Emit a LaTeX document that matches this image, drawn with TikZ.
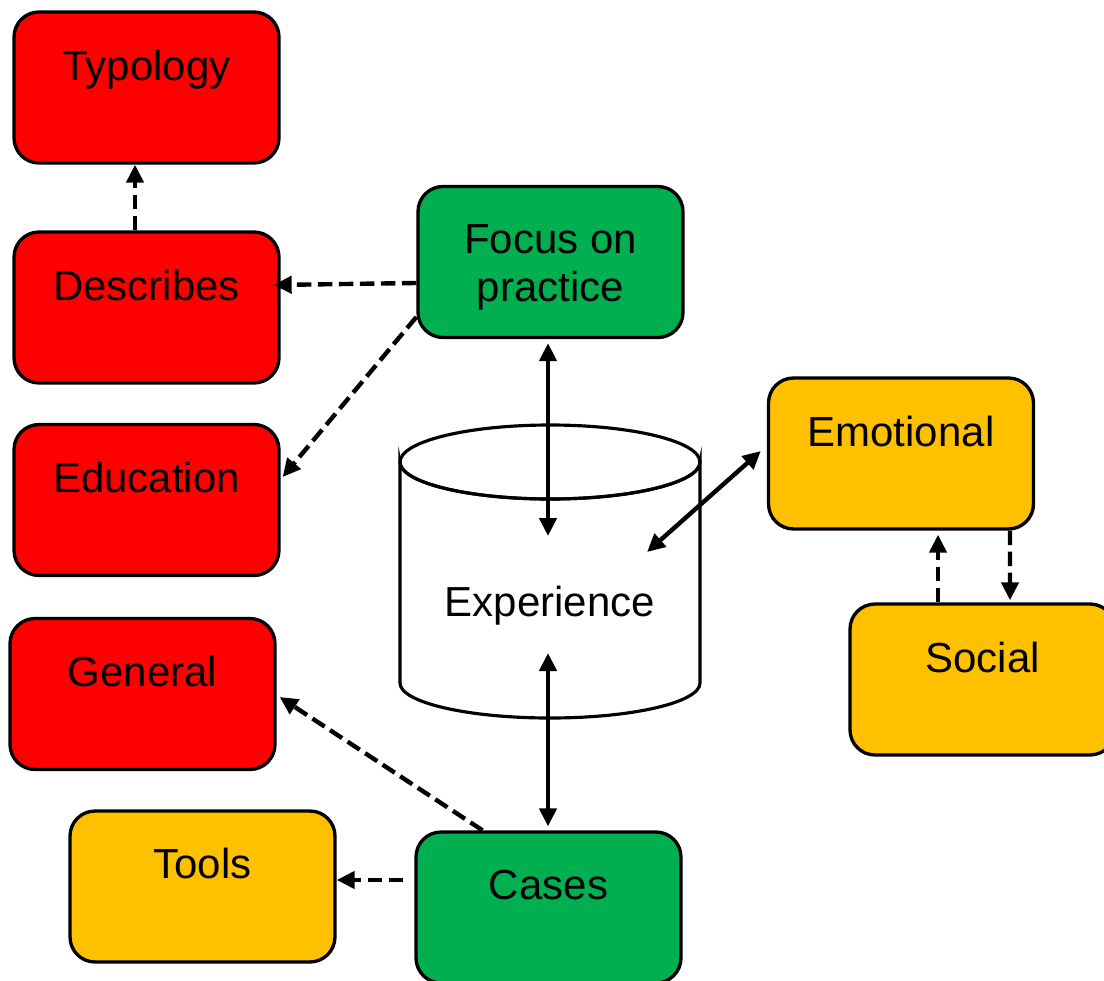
\documentclass[tikz,border=0pt]{standalone}
\usepackage{fontspec}
\setmainfont{Liberation Sans}
\usetikzlibrary{arrows.meta,calc}

\definecolor{boxred}{HTML}{FF0000}
\definecolor{boxgreen}{HTML}{00B050}
\definecolor{boxyellow}{HTML}{FFC000}

\tikzset{
  box/.style={draw=black, line width=1.9pt, rounded corners=0.5cm,
    minimum width=5.3cm, minimum height=3.02cm, inner sep=0pt},
  redbox/.style={box, fill=boxred},
  greenbox/.style={box, fill=boxgreen},
  yellowbox/.style={box, fill=boxyellow},
  txt/.style={anchor=base, inner sep=0pt, align=center,
    font=\fontsize{23.9pt}{27.3pt}\selectfont},
  head/.tip={Triangle[length=0.36cm,width=0.34cm]},
  link/.style={line width=2.5pt, -head},
  dlink/.style={line width=2.5pt, head-head},
  dashlink/.style={link, dash pattern=on 0.29cm off 0.13cm},
}

\begin{document}
\begin{tikzpicture}[x=0.02cm, y=-0.02cm]
  \clip (0,0) rectangle (1104,980);
  \fill[white] (0,0) rectangle (1104,980);

  % boxes
  \node[redbox] (typ) at (146.5,87.5) {};
  \node[redbox] (des) at (146.5,307.5) {};
  \node[redbox] (edu) at (146.5,500) {};
  \node[redbox] (gen) at (142.5,694) {};
  \node[yellowbox] (too) at (202.5,886.5) {};
  \node[greenbox] (foc) at (550.5,262) {};
  \node[greenbox] (cas) at (548.5,907.5) {};
  \node[yellowbox] (emo) at (901,453.5) {};
  \node[yellowbox] (soc) at (982.5,679.5) {};

  % box labels, set near the top edge (base = baseline of the last line)
  \node[txt] (typ-t) at ($(typ.north)+(0,70)$) {Typology};
  \node[txt] (des-t) at ($(des.north)+(0,70)$) {Describes};
  \node[txt] (edu-t) at ($(edu.north)+(0,70)$) {Education};
  \node[txt] (gen-t) at ($(gen.north)+(0,70)$) {General};
  \node[txt] (too-t) at ($(too.north)+(0,69)$) {Tools};
  \node[txt] (foc-t) at ($(foc.north)+(0,117)$) {Focus on\\practice};
  \node[txt] (cas-t) at ($(cas.north)+(0,69)$) {Cases};
  \node[txt] (emo-t) at ($(emo.north)+(0,70)$) {Emotional};
  \node[txt] (soc-t) at ($(soc.north)+(0,70)$) {Social};

  % cylinder
  \coordinate (cyl-tl) at (400,462);
  \coordinate (cyl-bl) at (400,683);
  \coordinate (cyl-tc) at (550,462);
  \filldraw[fill=white, line width=1.8pt]
    (cyl-tl) -- (cyl-bl) arc[start angle=180, end angle=360, x radius=150, y radius=-35]
    -- (700,462) arc[start angle=0, end angle=180, x radius=150, y radius=37] -- cycle;
  \draw[line width=1.8pt] (cyl-tc) ellipse[x radius=150, y radius=37];
  \node[txt] (exp) at (550,616) {Experience};

  % free ends inside the cylinder
  \coordinate (exp-top) at (548,536);
  \coordinate (exp-bot) at (548,653);
  \coordinate (exp-right) at (647,552);

  % connectors
  \draw[dashlink] ([xshift=-0.23cm]des.north) -- ([xshift=-0.23cm]typ.south);
  \draw[dashlink] ($(foc.west)+(0,21)$) -- ($(des.east)+(-7,-22.5)$);
  \draw[dashlink] ($(foc.west)+(0,55)$) -- ($(edu.east)+(2,-23)$);
  \draw[dlink] ($(foc.south)+(-2.5,4)$) -- (exp-top);
  \draw[dlink] (exp-right) -- ($(emo.west)+(-6,-2.5)$);
  \draw[dlink] (exp-bot) -- ($(cas.north)+(-0.5,-4)$);
  \draw[dashlink] ($(cas.north)+(-66,0)$) -- ($(gen.east)+(3,3)$);
  \draw[dashlink] ($(cas.west)+(-11,-27.5)$) -- ($(too.east)+(0,-6.5)$);
  \draw[dashlink] ([xshift=2.18cm]emo.south) -- ($(soc.north)+(27.5,-2)$);
  \draw[dashlink] ($(soc.north)+(-44.5,0)$) -- ($(emo.south)+(37,4)$);
\end{tikzpicture}
\end{document}
